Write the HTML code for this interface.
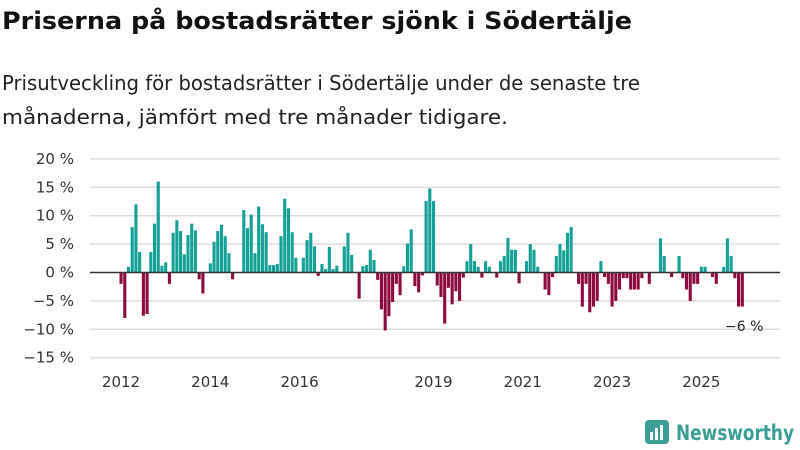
<!DOCTYPE html>
<html><head><meta charset="utf-8"><style>
body{margin:0;width:800px;height:450px;background:#fff;font-family:"DejaVu Sans","Liberation Sans",sans-serif;overflow:hidden}
</style></head><body>
<svg width="800" height="450" style="position:absolute;left:0;top:0">
<text x="2" y="29" font-size="24" font-weight="bold" fill="#111" textLength="630" lengthAdjust="spacingAndGlyphs">Priserna på bostadsrätter sjönk i Södertälje</text>
<text x="2" y="90" font-size="20" fill="#222" textLength="638" lengthAdjust="spacingAndGlyphs">Prisutveckling för bostadsrätter i Södertälje under de senaste tre</text>
<text x="2" y="124" font-size="20" fill="#222" textLength="506" lengthAdjust="spacingAndGlyphs">månaderna, jämfört med tre månader tidigare.</text>
<g id="grid"></g><g id="bars"></g><g id="xt"></g>
<text x="725" y="331" font-size="14" fill="#222">−6 %</text>
<g>
<rect x="645" y="420" width="24" height="24" rx="4" fill="#3a9e94"/>
<rect x="650" y="432" width="3" height="8" fill="#fff"/><rect x="655" y="428" width="3" height="12" fill="#fff"/><rect x="660" y="425" width="3" height="15" fill="#fff"/>
<text x="676" y="440" font-size="21" font-weight="bold" fill="#3a9e94" textLength="118" lengthAdjust="spacingAndGlyphs">Newsworthy</text>
</g>
</svg>
<script>
const values=[-2,-8,1,8,12,3.6,-7.6,-7.3,3.6,8.6,16,1.2,1.8,-2,7,9.2,7.3,3.2,6.6,8.6,7.4,-1.2,-3.7,0,1.6,5.4,7.3,8.4,6.4,3.4,-1.2,0,0,11,7.8,10.2,3.4,11.6,8.5,7.1,1.3,1.3,1.5,6.4,13,11.3,7.1,2.6,0,2.6,5.7,7,4.6,-0.6,1.5,0.6,
4.5,0.6,1.2,0,4.6,7,3.1,0,-4.6,1.1,1.3,4,2.2,-1.3,-6.5,-10.2,-7.7,-5.2,-2,-4,1.1,5.1,7.6,-2.4,-3.5,-0.5,12.6,14.8,12.6,-2.3,-4.3,-9,-2.7,-5.6,-3.3,-5,-0.9,2,5,2,1,-0.9,2,1,0,-0.9,2,2.9,6.1,4,4,-1.9,0,2,5,4,1,
0,-3,-4,-0.8,2.9,5,3.9,7,8,0,-2,-6,-2,-7,-6,-5,2,-0.8,-2,-6,-5,-3,-1,-1,-3,-3,-3,-1,0,-2,0,0,6,2.9,0,-0.8,0,2.9,-1,-3,-5,-2,-2,1,1,0,-0.8,-2,0,1,6,2.9,-1,-6,-6];
const yTicks=[20,15,10,5,0,-5,-10,-15];
const yTickLabels=["20 %","15 %","10 %","5 %","0 %","−5 %","−10 %","−15 %"];
const xYears=[2012,2014,2016,2019,2021,2023,2025];
const NS="http://www.w3.org/2000/svg";
function y(v){return 272.5-v*5.68;}
function x(i){return 121+i*3.72;}
function xYear(yr){return x((yr-2012)*12);}
function mk(t,a,p){const e=document.createElementNS(NS,t);for(const k in a)e.setAttribute(k,a[k]);p.appendChild(e);return e;}
const g=document.getElementById('grid');
yTicks.forEach((t,i)=>{
 if(t!==0){const l=mk('line',{x1:90,x2:780,y1:y(t),y2:y(t),stroke:'#ddd','stroke-width':1.5},g);
 
 }
 const tx=mk('text',{x:74,y:y(t)+5,'font-size':15,fill:'#333','text-anchor':'end'},g);
 tx.textContent=yTickLabels[i];
 
 
});
const b=document.getElementById('bars');
values.forEach((v,i)=>{
 if(v===0)return;
 const r=mk('rect',{x:x(i)-1.5,width:3.1,y:Math.min(y(v),y(0)),height:Math.abs(y(v)-y(0)),fill:v>0?'#13a096':'#8c0a3e'},b);
 
 
});
const zl=mk('line',{x1:90,x2:780,y1:y(0),y2:y(0),stroke:'#333','stroke-width':1.5},b);


const xt=document.getElementById('xt');
xYears.forEach(yr=>{
 const t=mk('text',{x:xYear(yr),y:387,'font-size':15,fill:'#333','text-anchor':'middle'},xt);
 t.textContent=yr;
 
 
});
</script>
</body></html>
